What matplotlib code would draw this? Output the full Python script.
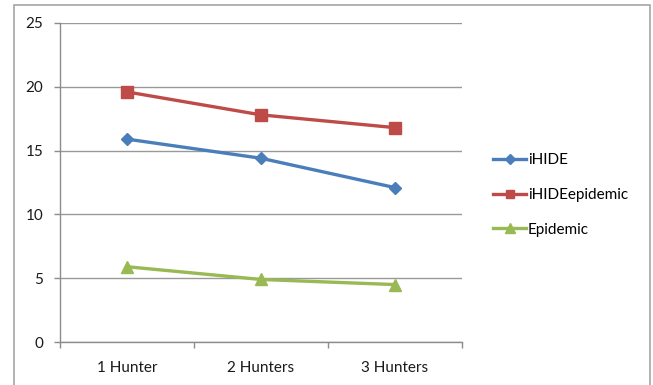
import matplotlib
matplotlib.use("Agg")
import matplotlib.pyplot as plt
from matplotlib.patches import Rectangle

plt.rcParams['font.family'] = ['Lato', 'DejaVu Sans']

# Datos de la gráfica
categories = ['1 Hunter', '2 Hunters', '3 Hunters']
ihide = [15.9, 14.4, 12.1]
ihide_epidemic = [19.6, 17.8, 16.8]
epidemic = [5.9, 4.9, 4.5]
y_ticks = [0, 5, 10, 15, 20, 25]

fig = plt.figure(figsize=(6.53, 3.85), dpi=100)

# Marco exterior del gráfico
fig.patches.append(Rectangle((14 / 653, -0.05), 636 / 653, 1.05 - 5 / 385,
                             transform=fig.transFigure, fill=False,
                             edgecolor='#a6a6a6', linewidth=1.2))

ax = fig.add_axes([60 / 653, 43 / 385, 402 / 653, 319 / 385])
x = list(range(len(categories)))

ax.plot(x, ihide, color='#4a7ebb', linewidth=2.4, marker='D', markersize=6.5,
        label='iHIDE')
ax.plot(x, ihide_epidemic, color='#be4b48', linewidth=2.4, marker='s', markersize=8,
        label='iHIDEepidemic')
ax.plot(x, epidemic, color='#98b954', linewidth=2.4, marker='^', markersize=8.5,
        label='Epidemic')

ax.set_xlim(-0.5, len(categories) - 0.5)
ax.set_ylim(0, 25)
ax.set_yticks(y_ticks)
ax.set_xticks(x)
ax.set_xticklabels(categories)
ax.set_xticks([i - 0.5 for i in range(len(categories) + 1)], minor=True)

ax.yaxis.grid(True, color='#999999', linewidth=1.0)
ax.set_axisbelow(True)
for side in ['top', 'right']:
    ax.spines[side].set_visible(False)
for side in ['left', 'bottom']:
    ax.spines[side].set_color('#8c8c8c')
    ax.spines[side].set_linewidth(1.0)

ax.tick_params(axis='y', length=4, width=1, color='#8c8c8c', pad=8,
               labelsize=11, labelcolor='#1a1a1a')
ax.tick_params(axis='x', which='major', length=0, pad=14,
               labelsize=11, labelcolor='#1a1a1a')
ax.tick_params(axis='x', which='minor', length=4, width=1, color='#8c8c8c')

fig.legend(loc='center left', bbox_to_anchor=(479 / 653, 1 - 195 / 385),
           frameon=False, fontsize=11, handlelength=2.2, handletextpad=0.1,
           labelspacing=1.35, markerscale=0.8)

fig.savefig('out.png', dpi=100)
